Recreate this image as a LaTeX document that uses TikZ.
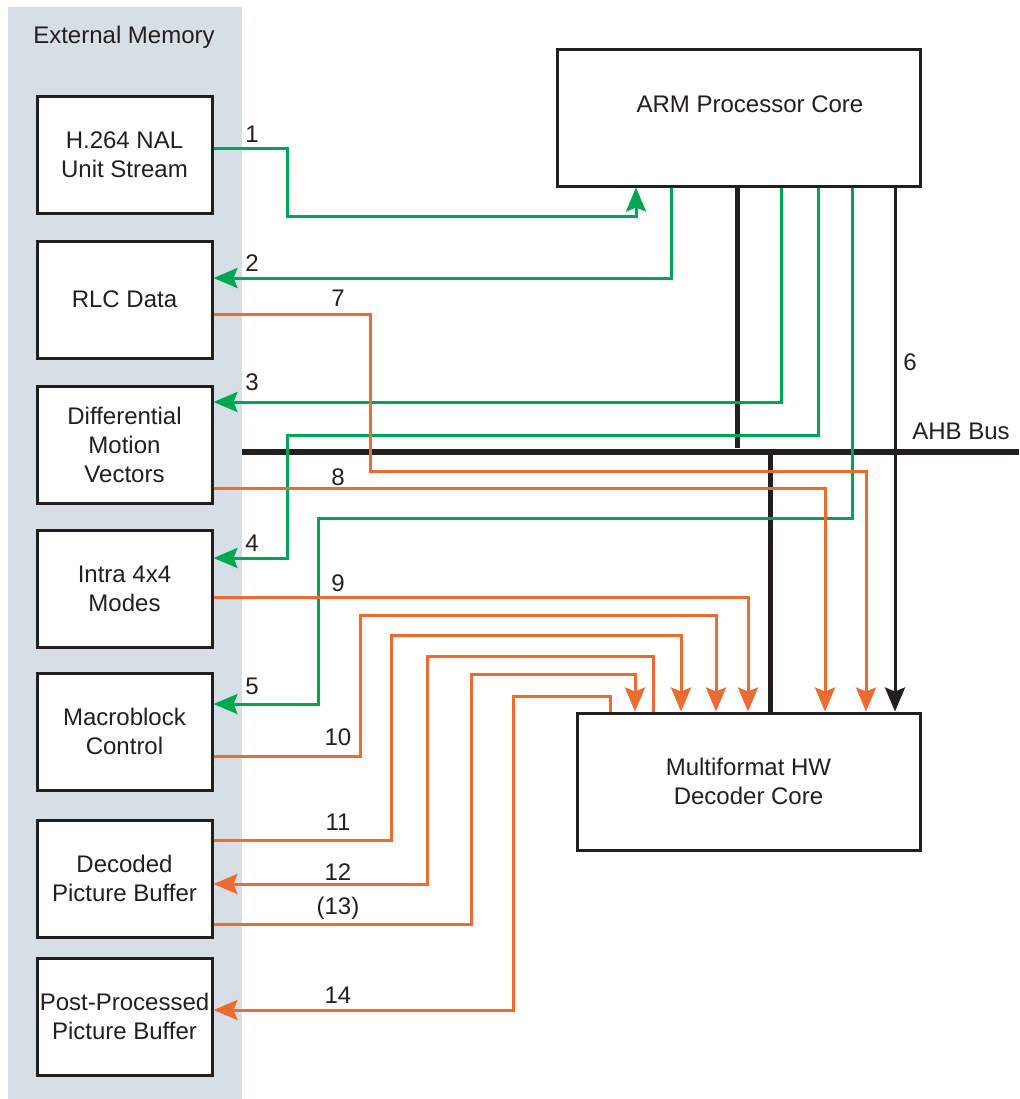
\documentclass[tikz,border=0pt]{standalone}
\usepackage{fontspec}
\setmainfont{Liberation Sans}
\usetikzlibrary{arrows.meta}
\definecolor{memgray}{RGB}{215,223,230}
\definecolor{pathgreen}{RGB}{0,166,81}
\definecolor{pathorange}{RGB}{236,108,48}
\definecolor{inkblack}{RGB}{35,31,32}
\begin{document}
\begin{tikzpicture}[x=0.5pt,y=-0.5pt,font=\fontsize{12}{14.5}\selectfont,
  memblk/.style={draw=inkblack,line width=1.5pt,fill=white,minimum width=87.5pt,
    minimum height=58.5pt,inner sep=0pt,align=center,text=inkblack},
  coreblk/.style={draw=inkblack,line width=1.5pt,fill=white,inner sep=0pt,
    align=center,text=inkblack},
  num/.style={text=inkblack,inner sep=0pt},
  tip/.style={-{Stealth[length=12pt,width=10pt,inset=2pt]}},
  grn/.style={draw=pathgreen,line width=1.5pt},
  org/.style={draw=pathorange,line width=1.5pt},
  busline/.style={draw=inkblack,line width=3pt},
  tap/.style={draw=inkblack,line width=2.5pt}]
  \useasboundingbox (0,0) rectangle (1019,1099);
  \fill[memgray] (8,7) rectangle (242,1099);
  \node[num] (memtitle) at (124,37) {External Memory};
  % memory blocks
  \node[memblk] (nal) at (124.5,154.5) {H.264 NAL\\Unit Stream};
  \node[memblk] (rlc) at (124.5,299.5) {RLC Data};
  \node[memblk] (dmv) at (124.5,444.5) {Differential\\Motion\\Vectors};
  \node[memblk] (intra) at (124.5,588.5) {Intra 4x4\\Modes};
  \node[memblk] (mb) at (124.5,731.5) {Macroblock\\Control};
  \node[memblk] (dpb) at (124.5,878.5) {Decoded\\Picture Buffer};
  \node[memblk] (ppb) at (124.5,1016.5) {Post-Processed\\Picture Buffer};
  % cores
  \node[coreblk,minimum width=181.5pt,minimum height=68.5pt] (arm) at (738.5,117.5) {};
  \node[num] (armtxt) at (750,104) {ARM Processor Core};
  \node[coreblk,minimum width=171.5pt,minimum height=68.5pt] (dec) at (748.5,781.5)
    {Multiformat HW\\Decoder Core};
  % bus
  \coordinate (busl) at (242,452);
  \coordinate (busr) at (1019,452);
  \draw[busline] (busl) -- (busr);
  \node[num] (buslbl) at (961,431) {AHB Bus};
  \draw[tap] (arm.south -| 737,0) -- (737,448);
  \draw[tap] (770,452) -- (dec.north -| 770,0);
  \draw[line width=1.5pt,draw=inkblack,tip] (arm.south -| 895,0) -- (dec.north -| 895,0);
  \node[num] (l6) at (910,362) {6};
  % green paths
  \draw[grn,tip] (nal.east |- 0,148) -- (287,148) |- (636,216) -- (arm.south -| 636,0);
  \draw[grn,tip] (arm.south -| 671,0) |- (rlc.east |- 0,278);
  \draw[grn,tip] (arm.south -| 781,0) |- (dmv.east |- 0,402);
  \draw[grn,tip] (arm.south -| 818,0) |- (287,435) |- (intra.east |- 0,558);
  \draw[grn,tip] (arm.south -| 852,0) |- (318,518) |- (mb.east |- 0,704);
  % orange paths
  \draw[org,tip] (rlc.east |- 0,314) -| (370,471) -| (dec.north -| 866,0);
  \draw[org,tip] (dmv.east |- 0,488) -| (dec.north -| 825,0);
  \draw[org,tip] (intra.east |- 0,597) -| (dec.north -| 748,0);
  \draw[org,tip] (mb.east |- 0,756) -| (360,615) -| (dec.north -| 716,0);
  \draw[org,tip] (dpb.east |- 0,840) -| (391,635) -| (dec.north -| 681,0);
  \draw[org,tip] (dec.north -| 653,0) |- (427,656) |- (dpb.east |- 0,884);
  \draw[org,tip] (dpb.east |- 0,924) -| (471,674) -| (dec.north -| 635,0);
  \draw[org,tip] (dec.north -| 610,0) |- (513,696) |- (ppb.east |- 0,1010);
  % path numbers
  \node[num] (l1) at (252,134) {1};
  \node[num] (l2) at (252,263) {2};
  \node[num] (l3) at (252,382) {3};
  \node[num] (l4) at (252,543) {4};
  \node[num] (l5) at (252,686) {5};
  \node[num] (l7) at (338,298) {7};
  \node[num] (l8) at (338,477) {8};
  \node[num] (l9) at (338,583) {9};
  \node[num] (l10) at (338,737) {10};
  \node[num] (l11) at (338,822) {11};
  \node[num] (l12) at (338,872) {12};
  \node[num] (l13) at (338,908) {(13)};
  \node[num] (l14) at (338,995) {14};
\end{tikzpicture}
\end{document}
